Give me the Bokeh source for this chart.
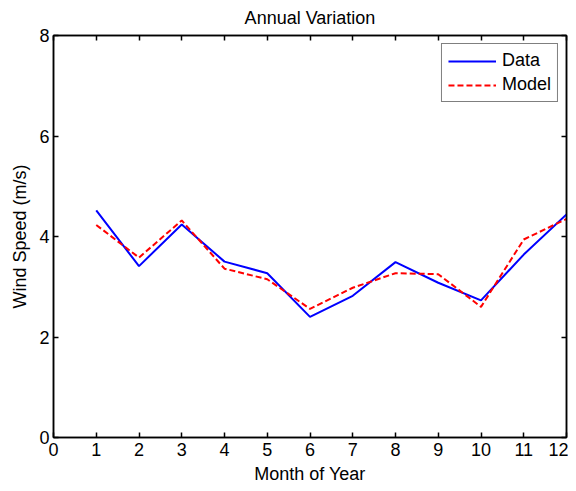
from bokeh.plotting import figure
from bokeh.models import LinearAxis, Range1d, Legend, LegendItem, FixedTicker
from bokeh.embed import file_html
from bokeh.resources import INLINE

months = [1, 2, 3, 4, 5, 6, 7, 8, 9, 10, 11, 12]
data_speed = [4.52, 3.41, 4.24, 3.50, 3.27, 2.40, 2.82, 3.49, 3.08, 2.73, 3.64, 4.44]
model_speed = [4.23, 3.58, 4.32, 3.36, 3.15, 2.56, 2.98, 3.27, 3.25, 2.60, 3.94, 4.35]
x_ticks = list(range(0, 13))
y_ticks = [0, 2, 4, 6, 8]

FONT = "Liberation Sans"
FS = "18px"

p = figure(width=568, height=489, output_backend="svg", toolbar_location=None,
           x_range=Range1d(0, 12), y_range=Range1d(0, 8),
           min_border_left=53, min_border_right=2, min_border_top=35, min_border_bottom=52,
           title="Annual Variation")
p.title.align = "center"
p.title.vertical_align = "top"
p.title.text_font = FONT
p.title.text_font_style = "normal"
p.title.text_font_size = FS
p.title.text_color = "black"
p.title.standoff = 12
p.grid.visible = False
p.outline_line_color = "black"
p.outline_line_width = 1.5
p.background_fill_color = "white"
p.border_fill_color = "white"

r1 = p.line(months, data_speed, line_color="#0000ff", line_width=2)
r2 = p.line(months, model_speed, line_color="#ff0000", line_width=2, line_dash="6 3")

for ax in p.xaxis:
    ax.ticker = FixedTicker(ticks=x_ticks)
    ax.axis_label = "Month of Year"
for ax in p.yaxis:
    ax.ticker = FixedTicker(ticks=y_ticks)
    ax.axis_label = "Wind Speed (m/s)"

for ax in list(p.xaxis) + list(p.yaxis):
    ax.major_tick_in = 5
    ax.major_tick_out = 0
    ax.minor_tick_line_color = None
    ax.axis_line_color = "black"
    ax.major_tick_line_color = "black"
    ax.axis_line_width = 1.5
    ax.major_tick_line_width = 1.5
    ax.major_label_text_font = FONT
    ax.major_label_text_font_size = FS
    ax.major_label_text_color = "black"
    ax.axis_label_text_font = FONT
    ax.axis_label_text_font_style = "normal"
    ax.axis_label_text_font_size = FS
    ax.axis_label_text_color = "black"
    ax.major_label_standoff = 5
    ax.axis_label_standoff = 5

for ax in p.yaxis:
    ax.major_label_standoff = 4
    ax.axis_label_standoff = 6

top = LinearAxis(ticker=FixedTicker(ticks=x_ticks),
                 major_label_overrides={t: "" for t in x_ticks},
                 major_tick_in=5, major_tick_out=0, minor_tick_line_color=None,
                 axis_line_width=1.5, major_tick_line_width=1.5, major_label_standoff=0)
right = LinearAxis(ticker=FixedTicker(ticks=y_ticks),
                   major_label_overrides={t: "" for t in y_ticks},
                   major_tick_in=5, major_tick_out=0, minor_tick_line_color=None,
                   axis_line_width=1.5, major_tick_line_width=1.5, major_label_standoff=0)
p.add_layout(top, "above")
p.add_layout(right, "right")

legend = Legend(items=[LegendItem(label="Data", renderers=[r1]),
                       LegendItem(label="Model", renderers=[r2])],
                location="top_right")
legend.label_text_font = FONT
legend.label_text_font_size = FS
legend.label_text_color = "black"
legend.border_line_color = "black"
legend.border_line_width = 1.5
legend.glyph_width = 48
legend.glyph_height = 20
legend.label_height = 20
legend.spacing = 3
legend.padding = 6
legend.margin = 8
legend.label_standoff = 6
legend.background_fill_alpha = 1.0
p.add_layout(legend)

open("out.html", "w").write(file_html(p, INLINE))
